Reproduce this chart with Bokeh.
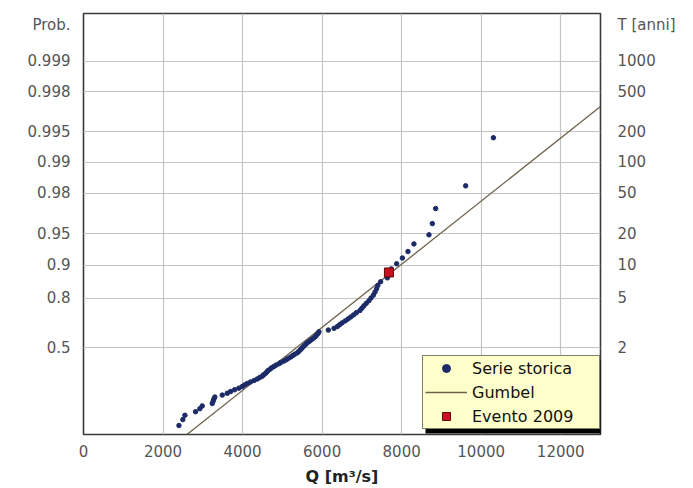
import numpy as np
from bokeh.plotting import figure
from bokeh.models import (FixedTicker, LinearAxis, Range1d, Legend,
                          LegendItem, BoxAnnotation)
from bokeh.embed import file_html
from bokeh.resources import INLINE

# ---------------- data ----------------
series_q = [2400, 2498, 2550, 2818, 2926, 2986, 3238, 3260, 3278, 3303,
            3489, 3615, 3698, 3800, 3907, 3992, 4050, 4118, 4200, 4290,
            4370, 4430, 4496, 4530, 4579, 4610, 4640, 4690, 4730, 4787,
            4840, 4913, 4960, 5039, 5100, 5150, 5210, 5260, 5310, 5376,
            5410, 5450, 5480, 5515, 5550, 5590, 5628, 5680, 5730, 5780,
            5830, 5860, 5900, 5920, 6156, 6300, 6382, 6440, 6500, 6580,
            6650, 6720, 6790, 6860, 6950, 7000, 7050, 7110, 7177, 7230,
            7290, 7330, 7370, 7400, 7472, 7640, 7700, 7740, 7874, 8018,
            8159, 8309, 8687, 8772, 8855, 9610, 10307]
series_p = [0.0170, 0.0284, 0.0398, 0.0511, 0.0625, 0.0739, 0.0852, 0.0966, 0.1080, 0.1193,
            0.1307, 0.1420, 0.1534, 0.1648, 0.1761, 0.1875, 0.1989, 0.2102, 0.2216, 0.2330,
            0.2443, 0.2557, 0.2670, 0.2784, 0.2898, 0.3011, 0.3125, 0.3239, 0.3352, 0.3466,
            0.3580, 0.3693, 0.3807, 0.3920, 0.4034, 0.4148, 0.4261, 0.4375, 0.4489, 0.4602,
            0.4716, 0.4830, 0.4943, 0.5057, 0.5170, 0.5284, 0.5398, 0.5511, 0.5625, 0.5739,
            0.5852, 0.5966, 0.6080, 0.6193, 0.6307, 0.6420, 0.6534, 0.6648, 0.6761, 0.6875,
            0.6989, 0.7102, 0.7216, 0.7330, 0.7443, 0.7557, 0.7670, 0.7784, 0.7898, 0.8011,
            0.8125, 0.8239, 0.8352, 0.8466, 0.8580, 0.8693, 0.8807, 0.8920, 0.9034, 0.9148,
            0.9261, 0.9375, 0.9489, 0.9602, 0.9716, 0.9830, 0.9943]
event_q = [7680]
event_p = [0.8835]
gumbel_q = [2600, 13000]
gumbel_p = [0.0067, 0.9972]

prob_ticks = [0.5, 0.8, 0.9, 0.95, 0.98, 0.99, 0.995, 0.998, 0.999]
prob_labels = ["0.5", "0.8", "0.9", "0.95", "0.98", "0.99", "0.995", "0.998", "0.999"]
t_ticks = [2, 5, 10, 20, 50, 100, 200, 500, 1000]
t_labels = ["2", "5", "10", "20", "50", "100", "200", "500", "1000"]
q_ticks = [0, 2000, 4000, 6000, 8000, 10000, 12000]
q_labels = ["0", "2000", "4000", "6000", "8000", "10000", "12000"]
left_title = "Prob."
right_title = "T [anni]"
x_title = "Q [m\u00b3/s]"


def gumbel_y(p):
    """Gumbel reduced variate (probability-paper scale)."""
    return [round(float(v), 6) for v in -np.log(-np.log(np.asarray(p, dtype=float)))]


FONT = "DejaVu Sans"
TICK_COLOR = "#555555"
TITLE_POS = 7.73   # vertical position (reduced variate) of the two side titles

p = figure(width=693, height=488, output_backend="svg", toolbar_location=None,
           x_range=Range1d(0, 13000), y_range=Range1d(-1.61, 8.0),
           min_border_left=83, min_border_right=93, min_border_top=13,
           min_border_bottom=53, background_fill_color="white",
           border_fill_color="white")
p.outline_line_color = "#3a3a3a"
p.outline_line_width = 1.6

yt = gumbel_y(prob_ticks)
ty = gumbel_y([1 - 1 / t for t in t_ticks])

p.xaxis.ticker = FixedTicker(ticks=q_ticks)
p.xaxis.major_label_overrides = {t: l for t, l in zip(q_ticks, q_labels)}

left_over = {t: l for t, l in zip(yt, prob_labels)}
left_over[TITLE_POS] = left_title
p.yaxis.ticker = FixedTicker(ticks=yt + [TITLE_POS])
p.yaxis.major_label_overrides = left_over

right_over = {t: l for t, l in zip(ty, t_labels)}
right_over[TITLE_POS] = right_title
right_axis = LinearAxis(ticker=FixedTicker(ticks=ty + [TITLE_POS]),
                        major_label_overrides=right_over)
p.add_layout(right_axis, "right")

for ax in [p.xaxis[0], p.yaxis[0], right_axis]:
    ax.axis_line_color = None
    ax.minor_tick_line_color = None
    ax.major_tick_line_color = None
    ax.major_tick_out = 0
    ax.major_tick_in = 0
    ax.major_label_text_font = FONT
    ax.major_label_text_font_size = "15px"
    ax.major_label_text_color = TICK_COLOR
p.xaxis.major_label_standoff = 10
p.yaxis.major_label_standoff = 13
right_axis.major_label_standoff = 17

p.xaxis.axis_label = x_title
p.xaxis.axis_label_text_font = FONT
p.xaxis.axis_label_text_font_style = "bold"
p.xaxis.axis_label_text_font_size = "16px"
p.xaxis.axis_label_text_color = "#222222"
p.xaxis.axis_label_standoff = 7

p.xgrid.ticker = FixedTicker(ticks=q_ticks)
p.ygrid.ticker = FixedTicker(ticks=yt)
p.grid.grid_line_color = "#c4c4c4"
p.grid.grid_line_width = 1.2

r_line = p.line(gumbel_q, gumbel_y(gumbel_p), line_color="#6e624c", line_width=1.3)
r_series = p.scatter(series_q, gumbel_y(series_p), marker="circle", size=4.5,
                     fill_color="#1c2b68", line_color="#1c2b68")
r_event = p.scatter(event_q, gumbel_y(event_p), marker="square", size=9,
                    fill_color="#cc1020", line_color="#5a0a0a", line_width=1)

# legend shadow + legend
p.add_layout(BoxAnnotation(left=342, right=518, bottom=1, top=74,
                           left_units="screen", right_units="screen",
                           bottom_units="screen", top_units="screen",
                           fill_color="black", fill_alpha=1, line_color=None))
legend = Legend(items=[LegendItem(label="Serie storica", renderers=[r_series]),
                       LegendItem(label="Gumbel", renderers=[r_line]),
                       LegendItem(label="Evento 2009", renderers=[r_event])],
                location=(339, 5), orientation="vertical",
                glyph_width=42, glyph_height=20, label_height=20, label_width=125,
                label_standoff=5, spacing=4, padding=2, margin=0,
                background_fill_color="#ffffcc", background_fill_alpha=1,
                border_line_color="black", border_line_width=1.2,
                label_text_font=FONT, label_text_font_size="16px",
                label_text_color="#111111")
p.add_layout(legend, "center")

open("out.html", "w").write(file_html(p, INLINE))
